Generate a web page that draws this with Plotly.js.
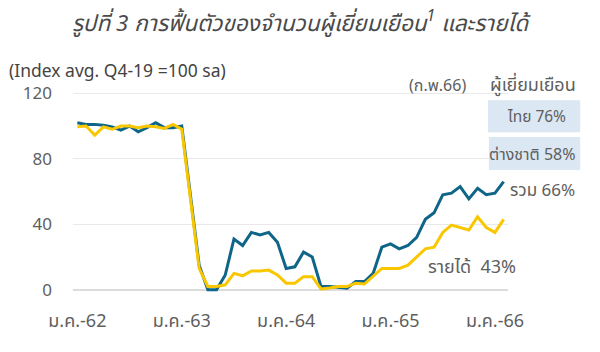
<!DOCTYPE html>
<html>
<head>
<meta charset="utf-8">
<script src="https://cdn.plot.ly/plotly-3.0.1.min.js"></script>
<style>html,body{margin:0;padding:0;background:#fff;}#chart{width:600px;height:352px;}</style>
</head>
<body>
<div id="chart"></div>
<script>
// Month abbreviations (Thai) and Buddhist-era years
var monthAbbr = ['ม.ค.','ก.พ.','มี.ค.','เม.ย.','พ.ค.','มิ.ย.','ก.ค.','ส.ค.','ก.ย.','ต.ค.','พ.ย.','ธ.ค.'];
var years = ['62','63','64','65','66'];
var months = [];
for (var y = 0; y < years.length; y++) {
  for (var m = 0; m < 12; m++) {
    if (y === 4 && m > 1) break;
    months.push(monthAbbr[m] + '-' + years[y]);
  }
}
var tickLabels = ['ม.ค.-62','ม.ค.-63','ม.ค.-64','ม.ค.-65','ม.ค.-66'];

// Visitors index (total)
var visitors = [102,101,101,100.5,99.5,97.5,100,96.5,99,102,99,99,
  100,59,15,0,0,9,31,27,35,33.5,35,29,
  13,14,23,20,2,2,1.5,1,5,5,10,26,
  28,25,27,32,43,47,58,59,63,55.5,62,58,
  59,66];
// Revenue index
var revenue = [99.5,100,94.5,99.5,98,100,100,99,100,99.5,98.5,101,
  98,57,13,2,2,3,10,8.5,11.5,11.5,12,9,
  4,4,8,8,0.5,1,2,2,4,3.5,8,13,
  13,13,15,20,25,26,35,39.5,38,36.5,44.5,38,
  35,43];

var FONT = 'Noto Sans, Noto Sans Thai, Liberation Sans, sans-serif';
var GRAY = '#5e5e5e';

var traces = [
  {x: months, y: visitors, type: 'scatter', mode: 'lines',
   line: {color: '#0f6587', width: 3}, hoverinfo: 'skip'},
  {x: months, y: revenue, type: 'scatter', mode: 'lines',
   line: {color: '#f8c700', width: 3}, hoverinfo: 'skip'}
];

var layout = {
  width: 600, height: 352,
  margin: {l: 73, r: 92, t: 90, b: 59},
  paper_bgcolor: '#ffffff', plot_bgcolor: '#ffffff',
  showlegend: false,
  font: {family: FONT, color: GRAY, size: 15},
  title: {text: '<i>รูปที่ 3 การฟื้นตัวของจำนวนผู้เยี่ยมเยือน<sup>1</sup> และรายได้</i>',
          font: {family: FONT, size: 22.5, color: '#4a4a4a'},
          x: 0.5, xanchor: 'center', xref: 'container', y: 0.935, yanchor: 'middle', yref: 'container'},
  xaxis: {
    type: 'category', range: [-0.5, 49.5],
    tickvals: tickLabels, ticktext: tickLabels,
    showgrid: false, zeroline: false, showline: false, ticks: '',
    ticklabelstandoff: 15,
    tickfont: {family: FONT, size: 18, color: GRAY}
  },
  yaxis: {
    range: [-2, 122], tickvals: [0, 40, 80, 120],
    showgrid: true, gridcolor: '#e9e9e9', gridwidth: 1,
    zeroline: true, zerolinecolor: '#dcdcdc', zerolinewidth: 2,
    showline: false, ticks: '',
    ticklabelstandoff: 20,
    tickfont: {family: FONT, size: 17, color: GRAY}
  },
  shapes: [
    {type: 'rect', xref: 'paper', yref: 'paper', x0: 0.954, x1: 1.166, y0: 0.792, y1: 0.949,
     fillcolor: '#dbe7f3', line: {width: 0}, layer: 'above'},
    {type: 'rect', xref: 'paper', yref: 'paper', x0: 0.956, x1: 1.166, y0: 0.606, y1: 0.768,
     fillcolor: '#dbe7f3', line: {width: 0}, layer: 'above'}
  ],
  annotations: [
    {text: '(Index avg. Q4-19 =100 sa)', xref: 'paper', yref: 'paper',
     x: -0.152, xanchor: 'left', y: 1.097, yanchor: 'middle', showarrow: false,
     font: {family: FONT, size: 17.5, color: '#444'}},
    {text: '(ก.พ.66)', xref: 'paper', yref: 'paper',
     x: 0.839, xanchor: 'center', y: 1.027, yanchor: 'middle', showarrow: false,
     font: {family: FONT, size: 16, color: GRAY}},
    {text: 'ผู้เยี่ยมเยือน', xref: 'paper', yref: 'paper',
     x: 1.162, xanchor: 'right', y: 1.027, yanchor: 'middle', showarrow: false,
     font: {family: FONT, size: 18, color: GRAY}},
    {text: 'ไทย 76%', xref: 'paper', yref: 'paper',
     x: 1.138, xanchor: 'right', y: 0.870, yanchor: 'middle', showarrow: false,
     font: {family: FONT, size: 15.5, color: GRAY}},
    {text: 'ต่างชาติ 58%', xref: 'paper', yref: 'paper',
     x: 1.161, xanchor: 'right', y: 0.687, yanchor: 'middle', showarrow: false,
     font: {family: FONT, size: 16, color: GRAY}},
    {text: 'รวม 66%', xref: 'paper', yref: 'paper',
     x: 1.000, xanchor: 'left', y: 0.512, yanchor: 'middle', showarrow: false,
     font: {family: FONT, size: 17, color: GRAY}},
    {text: 'รายได้  43%', xref: 'paper', yref: 'paper',
     x: 0.812, xanchor: 'left', y: 0.133, yanchor: 'middle', showarrow: false,
     font: {family: FONT, size: 18, color: GRAY}}
  ]
};

Plotly.newPlot('chart', traces, layout, {staticPlot: true, displayModeBar: false});
</script>
</body>
</html>
